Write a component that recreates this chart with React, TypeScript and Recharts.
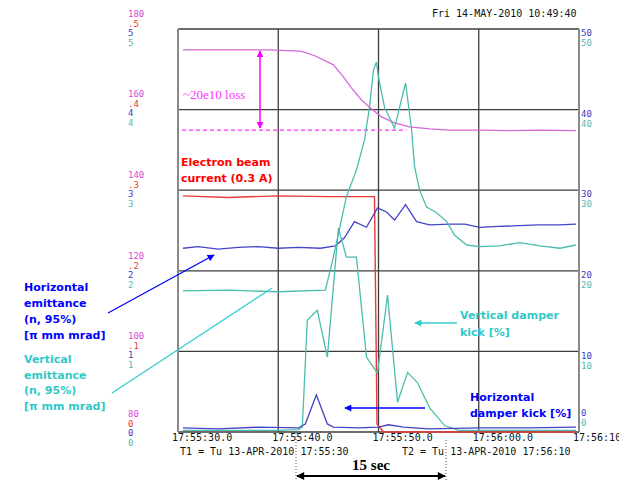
import React from 'react';
import { ComposedChart, Line, XAxis, YAxis, CartesianGrid, ReferenceLine } from 'recharts';

// ---- axis ticks / labels ----
const xTicks = [0, 10, 20, 30, 40];
const xTickLabels = ['17:55:30.0', '17:55:40.0', '17:55:50.0', '17:56:00.0', '17:56:10.0'];
const leftTicks = [80, 100, 120, 140, 160, 180];
const leftRedLabels = ['0', '.1', '.2', '.3', '.4', '.5'];
const leftEmitLabels = ['0', '1', '2', '3', '4', '5'];
const rightTicks = [0, 10, 20, 30, 40, 50];

// ---- series (t = seconds after 17:55:30) ----
// beam intensity (left axis 80..180)
const intensityT = [0.5, 3, 6, 9, 12.2, 12.9, 13.7, 15.5, 16.5, 17.3, 18.3, 19.1, 20.3, 21.6, 23.1, 25.1, 27.1, 30.1, 33, 36, 39.7];
const intensityV = [174.8, 174.8, 174.8, 174.8, 174.5, 174.0, 173.3, 171.1, 168.1, 165.4, 162.4, 160.6, 158.2, 156.7, 155.7, 155.2, 154.9, 154.9, 154.8, 154.9, 154.8];

// electron beam current (left axis 0..0.5)
const currentT = [0.5, 5, 10, 15, 19.6, 19.85, 20.5, 30, 39.7];
const currentV = [0.293, 0.291, 0.293, 0.292, 0.292, 0.01, 0, 0, 0];

// horizontal emittance (left axis 0..5)
const hEmitT = [0.5, 2, 4, 6, 8, 10, 12, 14.2, 15.7, 16.6, 17.6, 18.8, 19.9, 20.8, 21.6, 22.7, 23.8, 25.1, 27.1, 28.6, 30.1, 32, 34, 36, 38, 39.7];
const hEmitV = [2.28, 2.30, 2.27, 2.29, 2.30, 2.28, 2.29, 2.28, 2.31, 2.41, 2.61, 2.54, 2.78, 2.73, 2.63, 2.82, 2.61, 2.57, 2.58, 2.58, 2.54, 2.55, 2.56, 2.57, 2.57, 2.58];

// vertical emittance (left axis 0..5)
const vEmitT = [0.5, 5, 10, 14.7, 15.5, 16.8, 17.8, 18.6, 19.1, 19.5, 19.8, 20.0, 20.6, 21.6, 22.7, 23.3, 23.6, 24.1, 24.8, 25.8, 26.8, 27.6, 28.8, 30.1, 32.1, 34.1, 36.1, 38.1, 39.7];
const vEmitV = [1.75, 1.76, 1.74, 1.76, 2.17, 2.92, 3.25, 3.62, 4.03, 4.49, 4.59, 4.40, 4.03, 3.77, 4.33, 3.75, 3.29, 3.00, 2.79, 2.72, 2.61, 2.44, 2.32, 2.30, 2.31, 2.35, 2.31, 2.28, 2.32];

// vertical damper kick (right axis 0..50)
const vKickT = [0.5, 5, 10, 12.0, 12.4, 12.9, 13.9, 14.9, 16.0, 16.8, 17.8, 18.8, 19.9, 20.9, 21.9, 22.9, 23.9, 25.1, 26.6, 28, 34, 39.7];
const vKickV = [0.2, 0.2, 0.2, 0.3, 0.6, 13.9, 15.1, 9.3, 25.3, 21.7, 21.7, 9.3, 7.3, 17.0, 3.7, 7.4, 6.1, 3.0, 0.8, 0.2, 0.2, 0.2];

// horizontal damper kick (right axis 0..50)
const hKickT = [0.5, 4, 8, 12, 12.7, 13.8, 14.9, 15.5, 18, 20, 21, 22.5, 25, 30, 35, 39.7];
const hKickV = [0.5, 0.4, 0.6, 0.5, 1.0, 4.6, 1.0, 0.6, 0.5, 0.6, 0.9, 0.6, 0.4, 0.5, 0.5, 0.6];

const toData = (ts: number[], vs: number[]) => ts.map((t, i) => ({ t, v: vs[i] }));
const intensityData = toData(intensityT, intensityV);
const currentData = toData(currentT, currentV);
const hEmitData = toData(hEmitT, hEmitV);
const vEmitData = toData(vEmitT, vEmitV);
const vKickData = toData(vKickT, vKickV);
const hKickData = toData(hKickT, hKickV);

const C_MAG_LINE = '#d46ad8';
const C_MAG_TXT = '#d84ad8';
const C_RED = '#e83a3a';
const C_BLUE = '#4444c8';
const C_TEAL = '#4cbcae';
const C_BLUE_TXT = '#3a3ac0';
const C_TEAL_TXT = '#58b8b0';
const MONO = 'DejaVu Sans Mono, monospace';
const ANN = 'DejaVu Sans, sans-serif';

const LeftTick = (props: any) => {
  const { y, payload } = props;
  const v = payload.value as number;
  const k = Math.round((v - 80) / 20);
  const shift = k === 0 ? -3 : 0;
  const x0 = 128;
  const b = y + shift + 3.2;
  return (
    <g fontFamily={MONO} fontSize={9} textAnchor="start">
      <text x={x0} y={b - 15.5} fill={C_MAG_TXT}>{v}</text>
      <text x={x0} y={b - 5.5} fill={C_RED}>{leftRedLabels[k]}</text>
      <text x={x0} y={b + 3.5} fill={C_BLUE_TXT}>{leftEmitLabels[k]}</text>
      <text x={x0} y={b + 13.5} fill={C_TEAL_TXT}>{leftEmitLabels[k]}</text>
    </g>
  );
};

const RightTick = (props: any) => {
  const { y, payload } = props;
  const v = payload.value as number;
  const x0 = 581;
  const off = v === 0 ? -23 : 0;
  const b = y + off + 3.2;
  return (
    <g fontFamily={MONO} fontSize={9} textAnchor="start">
      <text x={x0} y={b + 4} fill={C_BLUE_TXT}>{v}</text>
      <text x={x0} y={b + 14} fill={C_TEAL_TXT}>{v}</text>
    </g>
  );
};

const BottomTick = (props: any) => {
  const { x, index } = props;
  return (
    <text x={x - 6} y={441} fontFamily={MONO} fontSize={10} fill="#111" textAnchor="start">
      {xTickLabels[index]}
    </text>
  );
};

export default function App() {
  return (
    <div style={{ position: 'relative', width: 619, height: 481, background: '#fff' }}>
      <style>{`body{margin:0;}`}</style>
      <ComposedChart width={619} height={481} margin={{ top: 29, right: 0, bottom: 0, left: 0 }}>
        <CartesianGrid xAxisId="x" yAxisId="mag" stroke="#3c3c3c" strokeWidth={1.3} />
        <XAxis xAxisId="x" type="number" dataKey="t" domain={[0, 40]} ticks={xTicks} interval={0}
          height={49} axisLine={false} tickLine={false} tick={<BottomTick />} allowDataOverflow />
        <YAxis yAxisId="mag" orientation="left" domain={[80, 180]} ticks={leftTicks} interval={0}
          width={178} axisLine={false} tickLine={false} tick={<LeftTick />} allowDataOverflow />
        <YAxis yAxisId="kick" orientation="right" domain={[0, 50]} ticks={rightTicks} interval={0}
          width={40} axisLine={false} tickLine={false} tick={<RightTick />} allowDataOverflow />
        <YAxis yAxisId="emit" domain={[0, 5]} hide />
        <YAxis yAxisId="red" domain={[0, 0.5]} hide />
        <ReferenceLine xAxisId="x" yAxisId="mag" x={0} stroke="#8a8a8a" strokeWidth={2} />
        <ReferenceLine xAxisId="x" yAxisId="mag" x={40} stroke="#8a8a8a" strokeWidth={2} />
        <ReferenceLine xAxisId="x" yAxisId="mag" segment={[{ x: 0.4, y: 154.9 }, { x: 22.8, y: 154.9 }]}
          stroke="#ff30ff" strokeWidth={1.2} strokeDasharray="4 3" />
        <Line xAxisId="x" yAxisId="mag" data={intensityData} dataKey="v" type="linear" dot={false}
          stroke={C_MAG_LINE} strokeWidth={1.3} isAnimationActive={false} />
        <Line xAxisId="x" yAxisId="red" data={currentData} dataKey="v" type="linear" dot={false}
          stroke={C_RED} strokeWidth={1.4} isAnimationActive={false} />
        <Line xAxisId="x" yAxisId="emit" data={hEmitData} dataKey="v" type="linear" dot={false}
          stroke={C_BLUE} strokeWidth={1.3} isAnimationActive={false} />
        <Line xAxisId="x" yAxisId="emit" data={vEmitData} dataKey="v" type="linear" dot={false}
          stroke={C_TEAL} strokeWidth={1.3} isAnimationActive={false} />
        <Line xAxisId="x" yAxisId="kick" data={vKickData} dataKey="v" type="linear" dot={false}
          stroke={C_TEAL} strokeWidth={1.3} isAnimationActive={false} />
        <Line xAxisId="x" yAxisId="kick" data={hKickData} dataKey="v" type="linear" dot={false}
          stroke={C_BLUE} strokeWidth={1.3} isAnimationActive={false} />
      </ComposedChart>
      <svg width={619} height={481} style={{ position: 'absolute', left: 0, top: 0, pointerEvents: 'none' }}>
        <defs>
          <marker id="ahMag" viewBox="0 0 10 10" refX="9" refY="5" markerWidth="7" markerHeight="7" orient="auto-start-reverse" markerUnits="userSpaceOnUse">
            <path d="M0,0 L10,5 L0,10 z" fill="#ff00ff" />
          </marker>
          <marker id="ahBlue" viewBox="0 0 10 10" refX="9" refY="5" markerWidth="8" markerHeight="7" orient="auto-start-reverse" markerUnits="userSpaceOnUse">
            <path d="M0,0 L10,5 L0,10 z" fill="#0000ff" />
          </marker>
          <marker id="ahTeal" viewBox="0 0 10 10" refX="9" refY="5" markerWidth="8" markerHeight="7" orient="auto-start-reverse" markerUnits="userSpaceOnUse">
            <path d="M0,0 L10,5 L0,10 z" fill="#33cccc" />
          </marker>
          <marker id="ahBlack" viewBox="0 0 10 10" refX="9" refY="5" markerWidth="10" markerHeight="8" orient="auto-start-reverse" markerUnits="userSpaceOnUse">
            <path d="M0,0 L10,5 L0,10 z" fill="#000" />
          </marker>
        </defs>
        <text x={432} y={17} fontFamily={MONO} fontSize={10} fill="#111">Fri 14-MAY-2010 10:49:40</text>
        <text x={180} y={455} fontFamily={MONO} fontSize={10} fill="#111">T1 = Tu 13-APR-2010 17:55:30</text>
        <text x={402} y={455} fontFamily={MONO} fontSize={10} fill="#111">T2 = Tu 13-APR-2010 17:56:10</text>

        {/* loss annotation */}
        <line x1={260} y1={51} x2={260} y2={128} stroke="#ff00ff" strokeWidth={1.5} markerStart="url(#ahMag)" markerEnd="url(#ahMag)" />
        <text x={183} y={99} fontFamily="Liberation Serif, serif" fontSize={13} fill="#ff33ff">~20e10 loss</text>

        {/* electron beam */}
        <g fontFamily={ANN} fontSize={11} fontWeight="bold" fill="#ff0000">
          <text x={181} y={166}>Electron beam</text>
          <text x={181} y={182}>current (0.3 A)</text>
        </g>

        {/* horizontal emittance */}
        <g fontFamily={ANN} fontSize={11} fontWeight="bold" fill="#0000ff">
          <text x={24} y={291}>Horizontal</text>
          <text x={24} y={307}>emittance</text>
          <text x={24} y={323}>(n, 95%)</text>
          <text x={24} y={339}>[π mm mrad]</text>
        </g>
        <line x1={108} y1={313} x2={214} y2={255} stroke="#0000ff" strokeWidth={1.3} markerEnd="url(#ahBlue)" />

        {/* vertical emittance */}
        <g fontFamily={ANN} fontSize={11} fontWeight="bold" fill="#33c8c8">
          <text x={24} y={363}>Vertical</text>
          <text x={24} y={379}>emittance</text>
          <text x={24} y={394}>(n, 95%)</text>
          <text x={24} y={410}>[π mm mrad]</text>
        </g>
        <line x1={112} y1={393} x2={272} y2={288} stroke="#33cccc" strokeWidth={1.3} />

        {/* vertical damper kick */}
        <g fontFamily={ANN} fontSize={11} fontWeight="bold" fill="#33c8c8">
          <text x={460} y={319}>Vertical damper</text>
          <text x={460} y={336}>kick [%]</text>
        </g>
        <line x1={457} y1={323} x2={415} y2={323} stroke="#33cccc" strokeWidth={1.3} markerEnd="url(#ahTeal)" />

        {/* horizontal damper kick */}
        <g fontFamily={ANN} fontSize={11} fontWeight="bold" fill="#0000ff">
          <text x={470} y={401}>Horizontal</text>
          <text x={470} y={417}>damper kick [%]</text>
        </g>
        <line x1={425} y1={408} x2={345} y2={408} stroke="#0000ff" strokeWidth={1.5} markerEnd="url(#ahBlue)" />

        {/* 15 sec */}
        <line x1={296} y1={433} x2={296} y2={481} stroke="#555" strokeWidth={1} strokeDasharray="1 2" />
        <line x1={446} y1={440} x2={446} y2={481} stroke="#555" strokeWidth={1} strokeDasharray="1 2" />
        <line x1={297} y1={476} x2={445} y2={476} stroke="#000" strokeWidth={2} markerStart="url(#ahBlack)" markerEnd="url(#ahBlack)" />
        <text x={371} y={470} textAnchor="middle" fontFamily="Liberation Serif, serif" fontSize={15} fontWeight="bold" fill="#000">15 sec</text>
      </svg>
    </div>
  );
}
